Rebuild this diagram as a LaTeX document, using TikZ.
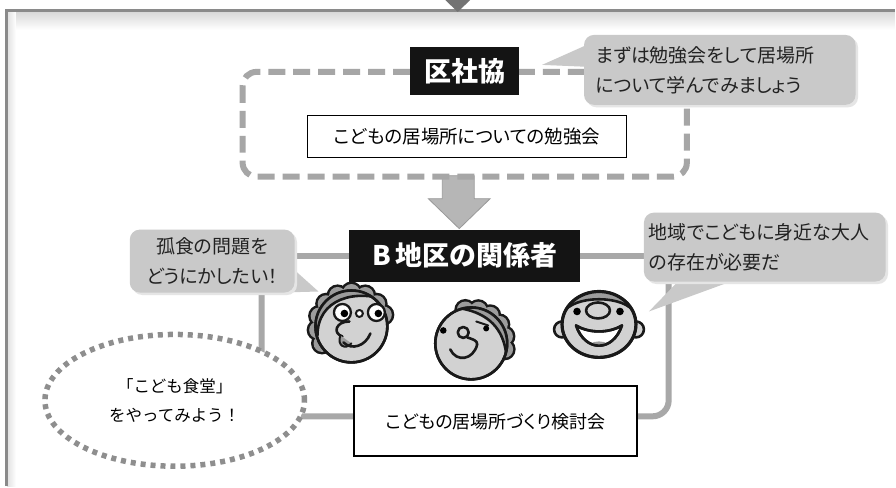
\documentclass[tikz,border=0pt]{standalone}
\usepackage{fontspec}
\newfontfamily\jp[RawFeature=+palt]{Noto Sans CJK JP}
\newfontfamily\jpw{Noto Sans CJK JP}
\usetikzlibrary{shapes.geometric,shadows}
\pgfdeclarelayer{back}
\pgfdeclarelayer{lines}
\pgfsetlayers{back,lines,main}

\definecolor{framegray}{HTML}{8A8A8A}
\definecolor{dashgray}{HTML}{A6A6A6}
\definecolor{conngray}{HTML}{A8A8A8}
\definecolor{dotgray}{HTML}{8E8E8E}
\definecolor{bubblegray}{HTML}{C9C9C9}
\definecolor{arrowgray}{HTML}{B6B6B6}
\definecolor{skin}{HTML}{D2D2D2}
\definecolor{haircol}{HTML}{9C9C9C}
\definecolor{talk}{HTML}{222222}

\tikzset{
  bubble/.style={fill=bubblegray, rounded corners=10pt, inner sep=0pt, text=talk,
    drop shadow={shadow xshift=2.5pt, shadow yshift=-2.5pt, fill=black!10, opacity=1}},
  darkbox/.style={fill=black!92, text=white, inner sep=0pt},
  plainbox/.style={draw=black, fill=white, inner sep=0pt},
  conn/.style={draw=conngray, line width=6pt},
  dashframe/.style={draw=dashgray, line width=6pt, dash pattern=on 17pt off 8pt, rounded corners=14pt},
  dotring/.style={ellipse, draw=dotgray, fill=white, line width=5.5pt, dash pattern=on 5pt off 5pt},
  ink/.style={draw=black!90, line width=2.6pt, line cap=round, line join=round},
  talkfont/.style={font=\jp\fontsize{19pt}{30pt}\selectfont},
}

\begin{document}
\begin{tikzpicture}[x=1pt, y=-1pt]

% page, outer frame and the arrow coming in from above
\begin{pgfonlayer}{back}
  \fill[white] (0,0) rectangle (896,487);
  \shade[top color=black!16, bottom color=white] (7,11) rectangle (896,30);
  \shade[left color=black!12, right color=white] (7,11) rectangle (16,487);
  \draw[framegray, line width=3pt] (6.5,487) -- (6.5,10.5) -- (896,10.5);
  \fill[black!55] (446,0) -- (471,0) -- (458.5,12) -- cycle;
\end{pgfonlayer}

% block arrow from the study group down to the district group
\filldraw[fill=arrowgray, draw=black!40, line width=0.8pt]
  (443,176) -- (475,176) -- (475,199) -- (491,199) -- (460,229) -- (429,199) -- (443,199) -- cycle;

% study group
\draw[dashframe] (243,72) rectangle (688,177);
\node[darkbox, minimum width=109pt, minimum height=48pt,
      font=\jp\bfseries\fontsize{27pt}{27pt}\selectfont] (kusha) at (465.5,71) {区社協};
\node[plainbox, line width=1pt, minimum width=320pt, minimum height=42pt,
      font=\jp\fontsize{18.5pt}{20pt}\selectfont] (study) at (468,137) {こどもの居場所についての勉強会};

% speech bubbles
\fill[bubblegray] (590,44) -- (543,65) -- (590,67) -- cycle;
\node[bubble, talkfont, minimum width=272pt, minimum height=70pt, text width=248pt, align=left]
  (tr) at (721,70) {まずは勉強会をして居場所\\について学んでみましょう};

\fill[bubblegray] (290,266) -- (319,292) -- (282,293) -- cycle;
\node[bubble, talkfont, minimum width=165pt, minimum height=63pt, align=center]
  (lb) at (212.5,261.5) {孤食の問題を\\どうにかしたい！};

\fill[bubblegray] (683,278) -- (650,312) -- (743,278) -- cycle;
\node[bubble, talkfont, minimum width=242pt, minimum height=69pt, text width=232pt, align=left]
  (rb) at (766,247.5) {地域でこどもに身近な大人\\の存在が必要だ};

% district group
\node[darkbox, minimum width=231pt, minimum height=52pt,
      font=\jp\bfseries\fontsize{27pt}{27pt}\selectfont] (bbox) at (465.5,256) {B\hspace{5pt}地区の関係者};

\node[dotring, minimum width=260pt, minimum height=132pt, inner sep=0pt, align=center,
      font=\jpw\fontsize{16.5pt}{29pt}\selectfont] (idea) at (175,401) {「こども食堂」\\をやってみよう！};

\node[plainbox, line width=2pt, minimum width=283pt, minimum height=70pt,
      font=\jp\fontsize{18pt}{20pt}\selectfont] (meet) at (496.5,422) {こどもの居場所づくり検討会};

% connectors
\begin{pgfonlayer}{lines}
  \draw[conn] (lb.east |- bbox.west) -- (bbox.west);
  \draw[conn] (bbox.east) -- (rb.west |- bbox.east);
  \draw[conn, rounded corners=16pt] ([xshift=49.5pt]lb.south) |- ([yshift=5pt]meet.west);
  \draw[conn, rounded corners=16pt] ([yshift=5pt]meet.east) -| ([xshift=25pt]rb.south west);
\end{pgfonlayer}

% face with glasses and curly hair
\foreach \a in {210,186,162,138,114,90,66,42,20}
  \draw[black!90, line width=5pt] ({352+34*cos(\a)},{327-34*sin(\a)}) circle[radius=8.5pt];
\foreach \a in {210,186,162,138,114,90,66,42,20}
  \fill[haircol] ({352+34*cos(\a)},{327-34*sin(\a)}) circle[radius=8.5pt];
\filldraw[fill=skin, ink] (352,327) circle[radius=36pt];
\begin{scope}
  \clip (352,327) circle[radius=36pt];
  \fill[haircol] (305,280) -- (305,340) -- (318,336) .. controls (318,300) and (355,288) .. (392,302)
    -- (400,302) -- (400,280) -- cycle;
  \draw[ink] (318,336) .. controls (318,300) and (355,288) .. (392,302);
\end{scope}
\draw[ink] (352,327) circle[radius=36pt];
\filldraw[fill=white, ink, line width=2.3pt] (343,313) circle[radius=8.5pt];
\filldraw[fill=white, ink, line width=2.3pt] (377,313) circle[radius=8.5pt];
\filldraw[fill=white, ink, line width=2pt] (360,314) circle[radius=3.5pt];
\fill[black] (345,314) circle[radius=3.8pt];
\fill[black] (379,314) circle[radius=3.8pt];
\draw[ink] (350,322) .. controls (336,322) and (333,334) .. (343,337);
\filldraw[fill=haircol, ink, line width=2pt] (341,336) .. controls (337,346) and (346,351) .. (352,344);
\draw[ink] (344,343) .. controls (352,351) and (366,347) .. (371,334);

% middle face
\foreach \a in {100,78,56,34,12,-10}
  \draw[black!90, line width=5pt] ({472+34*cos(\a)},{344-34*sin(\a)}) circle[radius=8.5pt];
\foreach \a in {100,78,56,34,12,-10}
  \fill[haircol] ({472+34*cos(\a)},{344-34*sin(\a)}) circle[radius=8.5pt];
\filldraw[fill=skin, ink] (472,344) circle[radius=36pt];
\begin{scope}
  \clip (472,344) circle[radius=36pt];
  \fill[haircol] (462,300) -- (520,300) -- (520,360) -- (507,354)
    .. controls (504,330) and (490,314) .. (462,309) -- cycle;
  \draw[ink] (507,354) .. controls (504,330) and (490,314) .. (462,309);
\end{scope}
\draw[ink] (472,344) circle[radius=36pt];
\fill[black] (444,331) circle[radius=3.3pt];
\fill[black] (487,329) circle[radius=3pt];
\draw[ink, line width=2pt] (477,322) -- (489,326);
\draw[ink] (464,333) circle[radius=5.5pt];
\draw[ink] (468,338) .. controls (474,340) and (478,341) .. (478,345);
\draw[ink] (451,350) .. controls (457,363) and (474,361) .. (478,345);

% smiling face
\filldraw[fill=skin, ink] (563,330) circle[radius=8pt];
\filldraw[fill=skin, ink] (637,330) circle[radius=8pt];
\filldraw[fill=skin, ink] (600,325) ellipse[x radius=37pt, y radius=33pt];
\begin{scope}
  \clip (600,325) ellipse[x radius=37pt, y radius=33pt];
  \fill[haircol] (560,285) -- (640,285) -- (640,314) -- (636,314)
    .. controls (627,295) and (573,295) .. (564,314) -- (560,314) -- cycle;
  \draw[ink] (636,314) .. controls (627,295) and (573,295) .. (564,314);
\end{scope}
\draw[ink, line width=3.2pt] (600,325) ellipse[x radius=37pt, y radius=33pt];
\fill[black] (578,312) circle[radius=3.8pt];
\fill[black] (621,312) circle[radius=3.8pt];
\filldraw[fill=white, ink] (577,326) .. controls (586,353) and (614,353) .. (623,326)
  .. controls (610,334) and (590,334) .. cycle;
\begin{scope}
  \clip (577,326) .. controls (586,353) and (614,353) .. (623,326)
    .. controls (610,334) and (590,334) .. cycle;
  \fill[haircol] (600,349) ellipse[x radius=12pt, y radius=7pt];
\end{scope}
\draw[ink] (577,326) .. controls (586,353) and (614,353) .. (623,326)
  .. controls (610,334) and (590,334) .. cycle;
\filldraw[fill=skin, ink] (599,311) ellipse[x radius=12pt, y radius=8pt];

\end{tikzpicture}
\end{document}
